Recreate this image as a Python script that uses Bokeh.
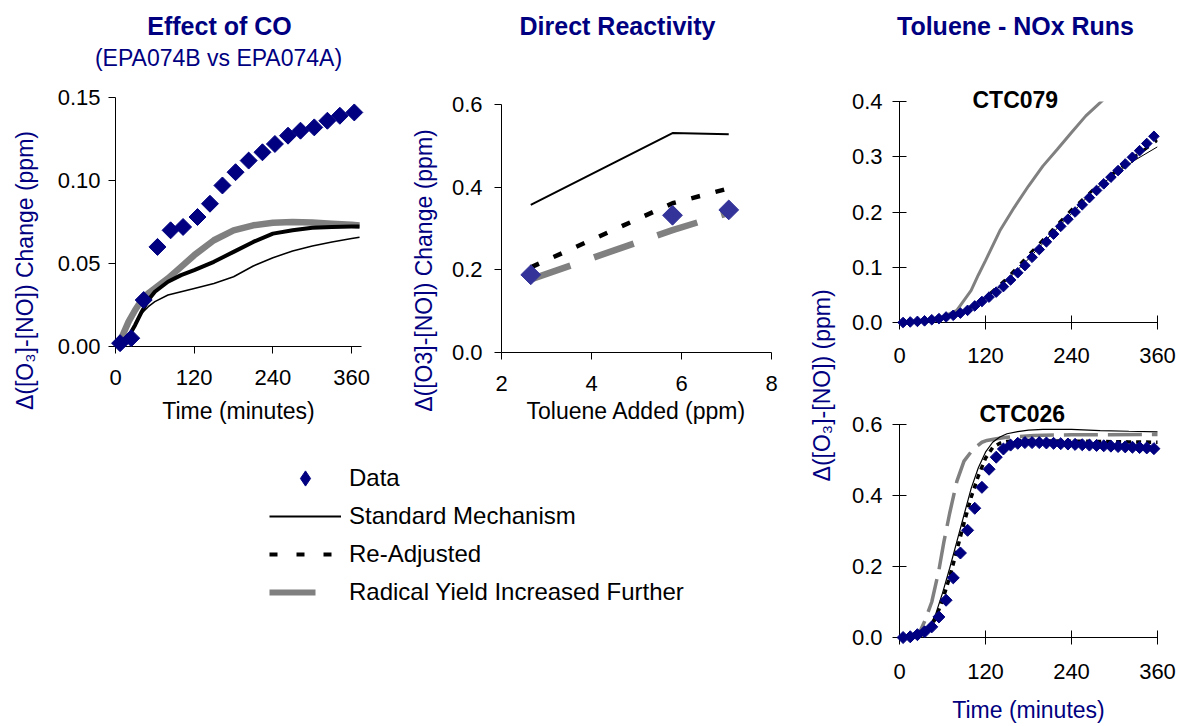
import math
from bokeh.plotting import figure
from bokeh.models import (Range1d, FixedTicker, NumeralTickFormatter, Label, Legend, LegendItem,
                          Title)
from bokeh.layouts import row, column
from bokeh.embed import file_html
from bokeh.resources import INLINE

FONT = "Liberation Sans"
NAVY = "#000080"
DATA2 = "#333399"
GRAY = "#808080"

# ---------------- Effect of CO (EPA074B vs EPA074A) ----------------
co_time = [7, 24, 43, 64, 84, 103, 125, 144, 163, 183, 203, 224, 243, 263, 282, 303, 323, 342, 364]
co_data = [0.002, 0.005, 0.028, 0.060, 0.070, 0.072, 0.078, 0.086, 0.097, 0.105, 0.112, 0.117,
           0.122, 0.127, 0.130, 0.132, 0.136, 0.139, 0.141]
co_model_time = [0, 10, 20, 30, 40, 50, 60, 80, 100, 120, 150, 180, 210, 240, 270, 300, 330, 360, 372]
co_standard = [0, 0.002, 0.006, 0.013, 0.020, 0.024, 0.027, 0.031, 0.033, 0.035, 0.038, 0.042,
               0.0485, 0.0535, 0.0575, 0.0605, 0.063, 0.065, 0.0658]
co_readjusted = [0, 0.002, 0.006, 0.013, 0.021, 0.028, 0.033, 0.039, 0.043, 0.046, 0.051, 0.057,
                 0.063, 0.068, 0.070, 0.0715, 0.072, 0.0723, 0.0723]
co_radical = [0, 0.006, 0.015, 0.022, 0.028, 0.032, 0.035, 0.041, 0.048, 0.055, 0.064, 0.070,
              0.073, 0.0745, 0.075, 0.0747, 0.074, 0.0733, 0.0729]

# ---------------- Direct Reactivity ----------------
tol_added = [2.65, 5.8, 7.05]
tol_data = [0.188, 0.332, 0.345]
tol_standard = [0.357, 0.531, 0.528]
tol_readjusted = [0.206, 0.361, 0.397]
tol_radical = [0.177, 0.296, 0.338]

# ---------------- CTC079 ----------------
ctc079_time = [5, 15, 25, 35, 45, 55, 65, 75, 85, 95, 105, 115, 125, 135, 145, 155, 165, 175,
               185, 195, 205, 215, 225, 235, 245, 255, 265, 275, 285, 295, 305, 315, 325, 335, 345, 355]
ctc079_data = [0.000, 0.001, 0.002, 0.003, 0.005, 0.007, 0.010, 0.013, 0.017, 0.022, 0.030, 0.038,
               0.046, 0.055, 0.065, 0.077, 0.090, 0.103, 0.118, 0.132, 0.146, 0.160, 0.174, 0.187,
               0.200, 0.213, 0.226, 0.239, 0.251, 0.263, 0.275, 0.287, 0.299, 0.311, 0.324, 0.337]
ctc079_model_time = [0, 30, 60, 90, 120, 150, 180, 210, 240, 270, 300, 330, 360]
ctc079_standard = [0, 0.002, 0.008, 0.019, 0.044, 0.076, 0.115, 0.157, 0.197, 0.238, 0.268, 0.295, 0.318]
ctc079_readjusted = [0, 0.002, 0.008, 0.020, 0.045, 0.080, 0.122, 0.163, 0.204, 0.240, 0.272, 0.302, 0.330]
ctc079_radical_time = [0, 30, 60, 80, 90, 100, 110, 120, 140, 160, 180, 200, 220, 240, 260, 280, 290]
ctc079_radical = [0, 0.003, 0.010, 0.022, 0.040, 0.058, 0.086, 0.112, 0.166, 0.208, 0.247, 0.283,
                  0.313, 0.344, 0.374, 0.398, 0.410]

# ---------------- CTC026 ----------------
ctc026_time = ctc079_time
ctc026_data = [0.000, 0.002, 0.008, 0.016, 0.030, 0.058, 0.105, 0.168, 0.238, 0.302, 0.364, 0.423,
               0.474, 0.508, 0.531, 0.542, 0.547, 0.549, 0.549, 0.549, 0.548, 0.547, 0.546, 0.545,
               0.544, 0.543, 0.542, 0.541, 0.540, 0.539, 0.538, 0.537, 0.536, 0.535, 0.534, 0.532]
ctc026_model_time = [0, 20, 30, 40, 50, 60, 70, 80, 90, 100, 110, 120, 130, 140, 150, 165, 180, 200,
                     240, 280, 320, 362]
ctc026_standard = [0, 0.002, 0.006, 0.025, 0.063, 0.125, 0.195, 0.270, 0.345, 0.420, 0.478, 0.522,
                   0.550, 0.565, 0.574, 0.580, 0.584, 0.586, 0.586, 0.583, 0.581, 0.579]
ctc026_readjusted = [0, 0.002, 0.006, 0.022, 0.052, 0.105, 0.170, 0.245, 0.322, 0.395, 0.455, 0.505,
                     0.535, 0.547, 0.552, 0.555, 0.555, 0.554, 0.553, 0.552, 0.551, 0.550]
ctc026_radical_time = [0, 20, 27, 35, 45, 55, 62, 70, 80, 90, 103, 115, 122, 135, 150, 187, 240, 280, 362]
ctc026_radical = [0, 0.003, 0.010, 0.045, 0.100, 0.190, 0.270, 0.350, 0.440, 0.497, 0.531, 0.550,
                  0.555, 0.560, 0.564, 0.569, 0.571, 0.571, 0.572]

time_ticks = [0, 120, 240, 360]
legend_labels = ["Data", "Standard Mechanism", "Re-Adjusted", "Radical Yield Increased Further"]
y_label_sub = "Δ([O₃]-[NO]) Change (ppm)"
y_label_plain = "Δ([O3]-[NO]) Change (ppm)"
y_label_right = "Δ([O₃]-[NO]) (ppm)"


def blank(width, height, xr=(0, 1), yr=(0, 1)):
    p = figure(width=width, height=height, x_range=Range1d(*xr), y_range=Range1d(*yr),
               min_border=0, x_axis_location=None, y_axis_location=None,
               output_backend="svg", toolbar_location=None, tools="")
    p.grid.visible = False
    p.outline_line_color = None
    return p


def make_fig(width, height, xr, yr, left, right, top, bottom):
    p = figure(width=width, height=height, x_range=Range1d(*xr), y_range=Range1d(*yr),
               min_border_left=left, min_border_right=right, min_border_top=top,
               min_border_bottom=bottom, output_backend="svg", toolbar_location=None, tools="")
    p.grid.visible = False
    p.outline_line_color = None
    return p


def style(p, xticks, yticks, yfmt, tick_in, x_std, y_std):
    for ax in p.axis:
        ax.axis_line_color = "black"
        ax.major_tick_line_color = "black"
        ax.major_tick_out = 7
        ax.major_tick_in = tick_in
        ax.minor_tick_line_color = None
        ax.major_label_text_font = FONT
        ax.major_label_text_font_size = "22px"
        ax.major_label_text_color = "black"
        ax.axis_label_text_font = FONT
        ax.axis_label_text_font_size = "23px"
        ax.axis_label_text_font_style = "normal"
        ax.axis_label_text_color = "black"
    p.xaxis.ticker = FixedTicker(ticks=xticks)
    p.yaxis.ticker = FixedTicker(ticks=yticks)
    p.yaxis.formatter = NumeralTickFormatter(format=yfmt)
    p.xaxis.major_label_standoff = x_std
    p.yaxis.major_label_standoff = y_std


def text_label(p, x, y, text, size, bold, color, angle=0.0):
    p.add_layout(Label(x=x, y=y, text=text, angle=angle, text_font=FONT,
                       text_font_size=size, text_font_style="bold" if bold else "normal",
                       text_color=color, text_align="center", text_baseline="middle"))


def diamonds(p, x, y, size, color):
    return p.scatter(x, y, marker="square", angle=math.pi / 4, size=size,
                     fill_color=color, line_color=color, level="overlay")


# ---- header with the three panel titles (pixel-like coordinates, y downward) ----
header = blank(1178, 80, (0, 1178), (80, 0))
text_label(header, 219, 25, "Effect of CO", "25px", True, NAVY)
text_label(header, 218, 57, "(EPA074B vs EPA074A)", "23px", False, NAVY)
text_label(header, 617, 25, "Direct Reactivity", "25px", True, NAVY)
text_label(header, 1015, 25, "Toluene - NOx Runs", "25px", True, NAVY)

# ---- vertical axis titles ----
labL = blank(40, 350)
text_label(labL, 0.6, 0.457, y_label_sub, "23px", False, NAVY, math.pi / 2)
labM = blank(63, 350)
text_label(labM, 0.69, 0.457, y_label_plain, "23px", False, NAVY, math.pi / 2)
labR = blank(40, 646)
text_label(labR, 0.54, 0.528, y_label_right, "23px", False, NAVY, math.pi / 2)

# ---- panel 1 ----
f1 = make_fig(340, 350, (0, 375), (0, 0.15), 75, 19, 17, 84)
style(f1, time_ticks, [0, 0.05, 0.10, 0.15], "0.00", 0, 16, 8)
f1.line(co_model_time, co_radical, line_color=GRAY, line_width=6.5)
f1.line(co_model_time, co_readjusted, line_color="black", line_width=4)
f1.line(co_model_time, co_standard, line_color="black", line_width=1.5)
diamonds(f1, co_time, co_data, 12, NAVY)
f1.xaxis.axis_label = "Time (minutes)"
f1.xaxis.axis_label_standoff = 10

# ---- panel 2 ----
f2 = make_fig(357, 350, (2, 8), (0, 0.6), 58, 29, 24, 78)
style(f2, [2, 4, 6, 8], [0, 0.2, 0.4, 0.6], "0.0", 0, 16, 12)
f2.line(tol_added, tol_radical, line_color=GRAY, line_width=6.5, line_dash="42 25")
f2.line(tol_added, tol_readjusted, line_color="black", line_width=4.5, line_dash="9 16")
f2.line(tol_added, tol_standard, line_color="black", line_width=2)
diamonds(f2, tol_added, tol_data, 14, DATA2)
f2.xaxis.axis_label = "Toluene Added (ppm)"
f2.xaxis.axis_label_standoff = 4

# ---- panel 3 (CTC079) ----
f3 = make_fig(338, 300, (0, 360), (0, 0.4), 59, 21, 21, 58)
style(f3, time_ticks, [0, 0.1, 0.2, 0.3, 0.4], "0.0", 7, 18, 10)
f3.line(ctc079_radical_time, ctc079_radical, line_color=GRAY, line_width=3)
f3.line(ctc079_model_time, ctc079_readjusted, line_color="black", line_width=3, line_dash="6 8")
f3.line(ctc079_model_time, ctc079_standard, line_color="black", line_width=1)
diamonds(f3, ctc079_time, ctc079_data, 7.5, NAVY)
f3.add_layout(Title(text="CTC079", align="left", offset=73, standoff=-22, text_font=FONT,
                    text_font_size="23px", text_font_style="bold", text_color="black"), "above")

# ---- panel 4 (CTC026) ----
f4 = make_fig(338, 346, (0, 360), (0, 0.6), 59, 21, 44, 89)
style(f4, time_ticks, [0, 0.2, 0.4, 0.6], "0.0", 7, 19, 10)
f4.line(ctc026_radical_time, ctc026_radical, line_color=GRAY, line_width=3.5, line_dash="34 10")
f4.line(ctc026_model_time, ctc026_readjusted, line_color="black", line_width=3.5, line_dash="5 5")
f4.line(ctc026_model_time, ctc026_standard, line_color="black", line_width=1.2)
diamonds(f4, ctc026_time, ctc026_data, 8.5, NAVY)
f4.xaxis.axis_label = "Time (minutes)"
f4.xaxis.axis_label_text_color = NAVY
f4.xaxis.axis_label_standoff = 15
f4.add_layout(Title(text="CTC026", align="left", offset=80, standoff=-4, text_font=FONT,
                    text_font_size="23px", text_font_style="bold", text_color="black"), "above")

# ---- legend (sample renderers use the real data but lie outside this figure's view) ----
leg = blank(800, 296, (-2, -1), (-2, -1))
r_data = leg.scatter(co_time, co_data, marker="diamond", size=15,
                     fill_color=NAVY, line_color=NAVY)
r_std = leg.line(co_model_time, co_standard, line_color="black", line_width=2)
r_readj = leg.line(co_model_time, co_readjusted, line_color="black", line_width=4, line_dash="8 19")
r_rad = leg.line(co_model_time, co_radical, line_color=GRAY, line_width=6, line_dash="46 28")
legend = Legend(items=[LegendItem(label=legend_labels[0], renderers=[r_data]),
                       LegendItem(label=legend_labels[1], renderers=[r_std]),
                       LegendItem(label=legend_labels[2], renderers=[r_readj]),
                       LegendItem(label=legend_labels[3], renderers=[r_rad])],
                location=(269, 115), glyph_width=72, glyph_height=38, label_height=38,
                spacing=0, padding=0, margin=0, label_standoff=8,
                border_line_color=None, background_fill_alpha=0,
                label_text_font=FONT, label_text_font_size="24px", label_text_color="black")
leg.add_layout(legend)

left_block = column(row(column(labL), column(f1), column(labM), column(f2)), leg)
right_block = row(column(labR), column(f3, f4))
layout = column(header, row(left_block, right_block))

open("out.html", "w").write(file_html(layout, INLINE))
